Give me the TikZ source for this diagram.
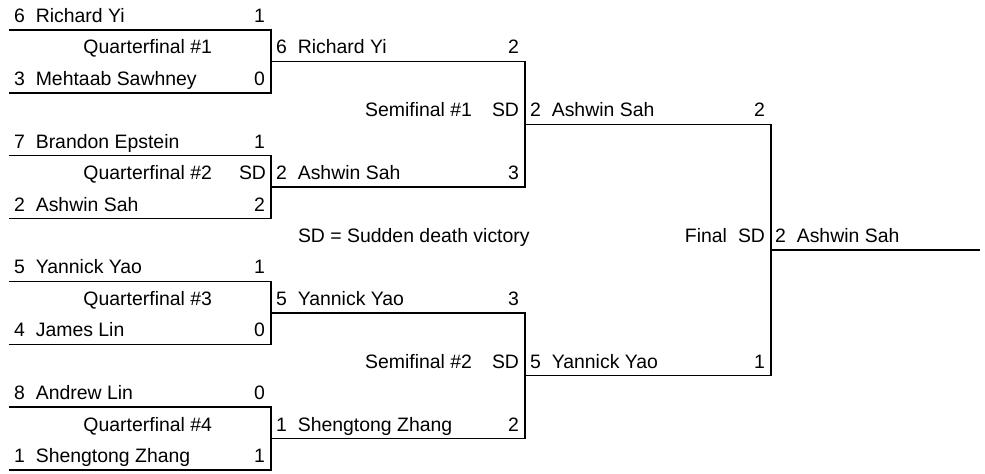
\documentclass[tikz,border=0pt]{standalone}
\usepackage{fontspec}
\setmainfont{Liberation Sans}
\usepackage{tikz}
\usetikzlibrary{positioning}

\begin{document}
\begin{tikzpicture}[
  x = 1bp, y = -1bp,
  every node/.style = {inner sep=0pt, outer sep=0pt, font=\fontsize{19.5}{23}\selectfont},
  seed/.style   = {anchor=base west},
  player/.style = {anchor=base west},
  score/.style  = {anchor=base east},
  tag/.style    = {anchor=base east},
  bracket/.style = {line width=1.4bp, line join=miter, color=black}
]
\useasboundingbox (0,0) rectangle (985,474);

% grid of line ends: column c, row r
\foreach \col/\xx in {0/9, 1/271, 2/525, 3/771, 4/980}
  \foreach \row in {0,...,14}
    \coordinate (c\col-\row) at (\xx, 30+31.43*\row);

% players with seed and games won
\foreach \col/\row/\sd/\who/\pts [count=\i] in {
    0/0/6/Richard Yi/1, 0/2/3/Mehtaab Sawhney/0,
    0/4/7/Brandon Epstein/1, 0/6/2/Ashwin Sah/2,
    0/8/5/Yannick Yao/1, 0/10/4/James Lin/0,
    0/12/8/Andrew Lin/0, 0/14/1/Shengtong Zhang/1,
    1/1/6/Richard Yi/2, 1/5/2/Ashwin Sah/3,
    1/9/5/Yannick Yao/3, 1/13/1/Shengtong Zhang/2,
    2/3/2/Ashwin Sah/2, 2/11/5/Yannick Yao/1} {
  \pgfmathtruncatemacro\nxt{\col+1}
  \node[seed] (sd\i) at ([shift={(5,-7.5)}]c\col-\row) {\sd};
  \node[player, base right=11bp of sd\i] (pl\i) {\who};
  \node[score] (sc\i) at ([shift={(-6,-7.5)}]c\nxt-\row) {\pts};
}
\node[seed] (chs) at ([shift={(4,-7.5)}]c3-7) {2};
\node[player, base right=11bp of chs] (chn) {Ashwin Sah};

% round labels
\node[tag] (qf1) at ([shift={(-59,-7.5)}]c1-1)  {Quarterfinal \#1};
\node[tag] (qf2) at ([shift={(-59,-7.5)}]c1-5)  {Quarterfinal \#2};
\node[tag] (qf3) at ([shift={(-59,-7.5)}]c1-9)  {Quarterfinal \#3};
\node[tag] (qf4) at ([shift={(-59,-7.5)}]c1-13) {Quarterfinal \#4};
\node[tag] (sf1) at ([shift={(-53,-7.5)}]c2-3)  {Semifinal \#1};
\node[tag] (sf2) at ([shift={(-53,-7.5)}]c2-11) {Semifinal \#2};
\node[tag] (fin) at ([shift={(-44,-7.5)}]c3-7)  {Final};
\node[tag] (qf2sd) at ([shift={(-5,-7.5)}]c1-5)  {SD};
\node[tag] (sf1sd) at ([shift={(-6,-7.5)}]c2-3)  {SD};
\node[tag] (sf2sd) at ([shift={(-6,-7.5)}]c2-11) {SD};
\node[tag] (finsd) at ([shift={(-6,-7.5)}]c3-7)  {SD};
\node[anchor=base west] (key) at ([shift={(27,-7.5)}]c1-7) {SD = Sudden death victory};

% brackets
\draw[bracket] (c0-0)  -- (c1-0)  -- (c1-2)  -- (c0-2);
\draw[bracket] (c0-4)  -- (c1-4)  -- (c1-6)  -- (c0-6);
\draw[bracket] (c0-8)  -- (c1-8)  -- (c1-10) -- (c0-10);
\draw[bracket] (c0-12) -- (c1-12) -- (c1-14) -- (c0-14);
\draw[bracket] (c1-1)  -- (c2-1)  -- (c2-5)  -- (c1-5);
\draw[bracket] (c1-9)  -- (c2-9)  -- (c2-13) -- (c1-13);
\draw[bracket] (c2-3)  -- (c3-3)  -- (c3-11) -- (c2-11);
\draw[bracket] (c3-7)  -- (c4-7);

\end{tikzpicture}
\end{document}
